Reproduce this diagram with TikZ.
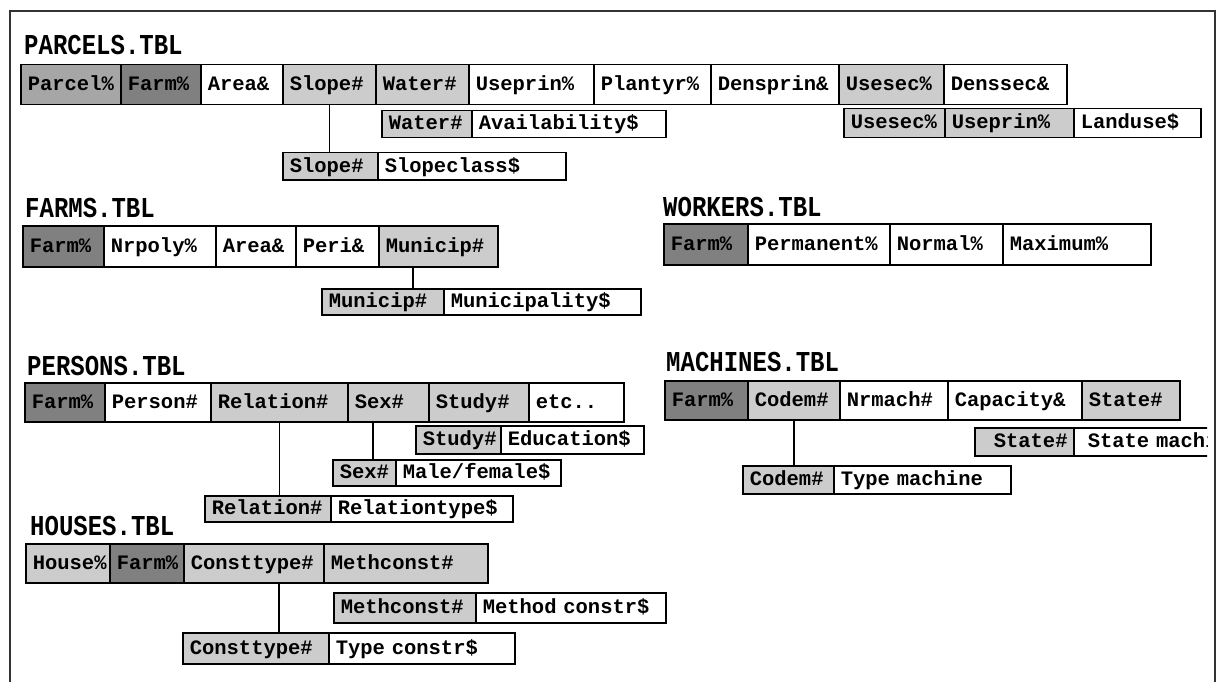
\documentclass[tikz,border=0pt]{standalone}
\usepackage{graphicx}
\usepackage{fontspec}
\setmonofont{Liberation Mono}
\newcommand\cellfont{\ttfamily\bfseries\fontsize{20.5}{24}\selectfont}
\newcommand\titlefont{\ttfamily\bfseries\fontsize{24}{28}\selectfont}
\tikzset{
  cellbase/.style={draw=black, line width=1.5pt, rectangle, inner ysep=0pt, inner xsep=7pt,
    align=left, text height=11.5pt, text depth=0pt, font=\cellfont},
  keydark/.style={cellbase, fill=black!50},
  keymid/.style={cellbase, fill=black!35},
  keylight/.style={cellbase, fill=black!20},
  plain/.style={cellbase, fill=white},
  tbltitle/.style={anchor=base west, inner sep=0pt, font=\titlefont},
  link/.style={line width=1.5pt, black},
  frameline/.style={line width=1.2pt, black!80},
}
% \fcell{name}{style}{x1}{x2}{y1}{y2}{text}
\newcommand\fcell[7]{%
  \pgfmathsetmacro\cw{#4-#3}%
  \pgfmathsetmacro\ch{#6-#5}%
  \pgfmathsetmacro\tw{#4-#3-14}%
  \node[#2, anchor=north west, minimum width=\cw pt, minimum height=\ch pt, text width=\tw pt] (#1) at (#3,#5) {\mbox{#7}};}
\begin{document}
\begin{tikzpicture}[x=1pt, y=-1pt]
\useasboundingbox (0,0) rectangle (1221,682);
\fill[white] (0,0) rectangle (1221,682);
\draw[frameline] (10,682) -- (10,11) -- (1215,11) -- (1215,682);

% ---------------- PARCELS ----------------
\node[tbltitle] (tparcels) at (24,55) {\scalebox{1}[1.2]{PARCELS.TBL}};
\fcell{p1}{keymid}{20}{120}{64}{104}{Parcel\%}
\fcell{p2}{keydark}{120}{200}{64}{104}{Farm\%}
\fcell{p3}{plain}{200}{282}{64}{104}{Area\&}
\fcell{p4}{keylight}{282}{375}{64}{104}{Slope\#}
\fcell{p5}{keylight}{375}{468}{64}{104}{Water\#}
\fcell{p6}{plain}{468}{593}{64}{104}{Useprin\%}
\fcell{p7}{plain}{593}{710}{64}{104}{Plantyr\%}
\fcell{p8}{plain}{710}{838}{64}{104}{Densprin\&}
\fcell{p9}{keylight}{838}{943}{64}{104}{Usesec\%}
\fcell{p10}{plain}{943}{1066}{64}{104}{Denssec\&}

\fcell{wk}{keylight}{381}{471}{110}{137}{Water\#}
\fcell{wv}{plain}{471}{665}{110}{137}{Availability\$}

\fcell{uk1}{keylight}{843}{944}{108}{137}{Usesec\%}
\fcell{uk2}{keylight}{944}{1073}{108}{137}{Useprin\%}
\fcell{uv}{plain}{1073}{1200}{108}{137}{Landuse\$}

\fcell{sk}{keylight}{282}{377}{152}{179}{Slope\#}
\fcell{sv}{plain}{377}{565}{152}{179}{Slopeclass\$}
\draw[link] (p4.south) -- (p4.south |- sk.north);

% ---------------- FARMS ----------------
\node[tbltitle] (tfarms) at (25,217) {\scalebox{1}[1.2]{FARMS.TBL}};
\fcell{f1}{keydark}{22}{103}{225}{266}{Farm\%}
\fcell{f2}{plain}{103}{215}{225}{266}{Nrpoly\%}
\fcell{f3}{plain}{215}{295}{225}{266}{Area\&}
\fcell{f4}{plain}{295}{378}{225}{266}{Peri\&}
\fcell{f5}{keylight}{378}{497}{225}{266}{Municip\#}
\fcell{mk}{keylight}{321}{443}{288}{314}{Municip\#}
\fcell{mv}{plain}{443}{640}{288}{314}{Municipality\$}
\coordinate (mtop) at ([xshift=35pt]f5.south west);
\draw[link] (mtop) -- (mtop |- mk.north);

% ---------------- WORKERS ----------------
\node[tbltitle] (tworkers) at (663,216) {\scalebox{1}[1.2]{WORKERS.TBL}};
\fcell{w1}{keydark}{663}{747}{223}{264}{Farm\%}
\fcell{w2}{plain}{747}{889}{223}{264}{Permanent\%}
\fcell{w3}{plain}{889}{1002}{223}{264}{Normal\%}
\fcell{w4}{plain}{1002}{1150}{223}{264}{Maximum\%}

% ---------------- PERSONS ----------------
\node[tbltitle] (tpersons) at (27,375) {\scalebox{1}[1.2]{PERSONS.TBL}};
\fcell{r1}{keydark}{24}{104}{382}{421}{Farm\%}
\fcell{r2}{plain}{104}{210}{382}{421}{Person\#}
\fcell{r3}{keylight}{210}{347}{382}{421}{Relation\#}
\fcell{r4}{keylight}{347}{428}{382}{421}{Sex\#}
\fcell{r5}{keylight}{428}{528}{382}{421}{Study\#}
\fcell{r6}{plain}{528}{623}{382}{421}{etc..}

\fcell{stk}{keylight}{415}{500}{425}{453}{Study\#}
\fcell{stv}{plain}{500}{643}{425}{453}{Education\$}
\fcell{sxk}{keylight}{332}{395}{459}{485}{Sex\#}
\fcell{sxv}{plain}{395}{560}{459}{485}{Male/female\$}
\fcell{rlk}{keylight}{204}{330}{495}{521}{Relation\#}
\fcell{rlv}{plain}{330}{512}{495}{521}{Relationtype\$}
\draw[link] (r3.south) -- (r3.south |- rlk.north);
\coordinate (sxtop) at ([xshift=26pt]r4.south west);
\draw[link] (sxtop) -- (sxtop |- sxk.north);

% ---------------- MACHINES ----------------
\node[tbltitle] (tmachines) at (666,371) {\scalebox{1}[1.2]{MACHINES.TBL}};
\fcell{m1}{keydark}{664}{747}{380}{419}{Farm\%}
\fcell{m2}{keylight}{747}{839}{380}{419}{Codem\#}
\fcell{m3}{plain}{839}{947}{380}{419}{Nrmach\#}
\fcell{m4}{plain}{947}{1081}{380}{419}{Capacity\&}
\fcell{m5}{keylight}{1081}{1179}{380}{419}{State\#}

\fcell{stak}{keylight}{974}{1073}{427}{455}{\hspace*{12pt}State\#}
\begin{scope}
  \clip (1060,420) rectangle (1207,462);
  \fcell{stav}{plain}{1073}{1260}{427}{455}{\hspace*{7pt}State machine}
\end{scope}
\fcell{ck}{keylight}{742}{833}{465}{493}{Codem\#}
\fcell{cv}{plain}{833}{1010}{465}{493}{Type machine}
\draw[link] (m2.south) -- (m2.south |- ck.north);

% ---------------- HOUSES ----------------
\node[tbltitle] (thouses) at (30,535) {\scalebox{1}[1.2]{HOUSES.TBL}};
\fcell{h1}{keylight}{25}{109}{543}{582}{House\%}
\fcell{h2}{keydark}{109}{183}{543}{582}{Farm\%}
\fcell{h3}{keylight}{183}{323}{543}{582}{Consttype\#}
\fcell{h4}{keylight}{323}{487}{543}{582}{Methconst\#}
\fcell{mck}{keylight}{333}{475}{592}{622}{Methconst\#}
\fcell{mcv}{plain}{475}{665}{592}{622}{Method constr\$}
\fcell{ctk}{keylight}{182}{328}{632}{663}{Consttype\#}
\fcell{ctv}{plain}{328}{514}{632}{663}{Type constr\$}
\coordinate (cttop) at ([xshift=96pt]h3.south west);
\draw[link] (cttop) -- (cttop |- ctk.north);
\end{tikzpicture}
\end{document}
